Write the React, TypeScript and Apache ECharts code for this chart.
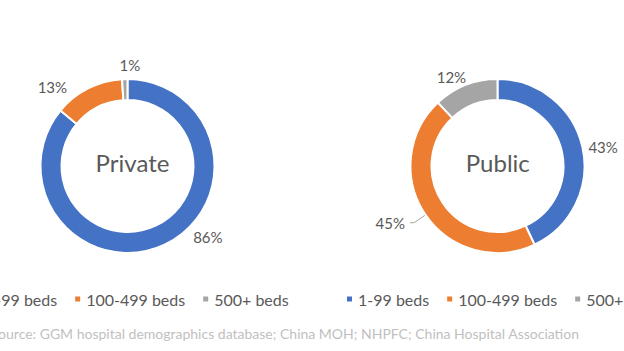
import React, { useEffect, useRef } from "react";
import * as echarts from "echarts";

const categories = ["1-99 beds", "100-499 beds", "500+ beds"];
const privateValues = [86, 13, 1];
const publicValues = [43, 45, 12];
const chartTitles = ["Private", "Public"];
const sourceText =
  "Source: GGM hospital demographics database; China MOH; NHPFC; China Hospital Association";

const colors = ["#4472C4", "#ED7D31", "#A5A5A5"];
const FONT = "Lato, 'Open Sans', sans-serif";
const TEXT = "#595959";

// label line tuning per slice: [length, length2, showLine]
const privateLabelTune: [number, number, boolean][] = [
  [-8, 27, false],
  [2, 15, false],
  [14, -21, false],
];
const publicLabelTune: [number, number, boolean][] = [
  [0, 1, false],
  [14, 4, true],
  [9, -9, false],
];

function buildData(values: number[], tune: [number, number, boolean][]) {
  return values.map((v, i) => ({
    name: categories[i],
    value: v,
    itemStyle: { color: colors[i] },
    labelLine: {
      show: tune[i][2],
      length: tune[i][0],
      length2: tune[i][1],
      lineStyle: { color: "#A6A6A6", width: 1 },
    },
  }));
}

export default function App() {
  const ref = useRef<HTMLDivElement>(null);

  useEffect(() => {
    if (!ref.current) return;
    const chart = echarts.init(ref.current, undefined, { renderer: "svg" });

    const pieBase = {
      type: "pie",
      radius: [66, 87],
      startAngle: 90,
      clockwise: true,
      avoidLabelOverlap: false,
      silent: true,
      itemStyle: { borderColor: "#ffffff", borderWidth: 2 },
      label: {
        show: true,
        position: "outside",
        formatter: "{c}%",
        color: TEXT,
        fontSize: 15,
        fontFamily: FONT,
      },
      emphasis: { disabled: true },
    };

    const legendBase = {
      data: categories,
      orient: "horizontal",
      top: 291,
      width: 420,
      padding: 0,
      itemWidth: 7,
      itemHeight: 7,
      itemGap: 16,
      icon: "rect",
      selectedMode: false,
      textStyle: { color: TEXT, fontSize: 16, fontFamily: FONT },
    };

    chart.setOption({
      animation: false,
      backgroundColor: "#ffffff",
      legend: [
        { ...legendBase, left: -27 },
        { ...legendBase, left: 345 },
      ],
      series: [
        {
          ...pieBase,
          name: chartTitles[0],
          center: [127.5, 166],
          data: buildData(privateValues, privateLabelTune),
        },
        {
          ...pieBase,
          name: chartTitles[1],
          center: [497.5, 166],
          data: buildData(publicValues, publicLabelTune),
        },
      ],
      graphic: [
        {
          type: "text",
          x: 132.5,
          y: 162,
          style: {
            text: chartTitles[0],
            fill: TEXT,
            font: `24px ${FONT}`,
            textAlign: "center",
            textVerticalAlign: "middle",
          },
        },
        {
          type: "text",
          x: 497.8,
          y: 162,
          style: {
            text: chartTitles[1],
            fill: TEXT,
            font: `24px ${FONT}`,
            textAlign: "center",
            textVerticalAlign: "middle",
          },
        },
        {
          type: "text",
          x: 579,
          y: 333,
          style: {
            text: sourceText,
            fill: "#BFBFBF",
            font: `14px ${FONT}`,
            textAlign: "right",
            textVerticalAlign: "middle",
          },
        },
      ],
    });

    return () => chart.dispose();
  }, []);

  return (
    <div
      ref={ref}
      style={{ position: "fixed", left: 0, top: 0, width: 624, height: 351 }}
    />
  );
}
